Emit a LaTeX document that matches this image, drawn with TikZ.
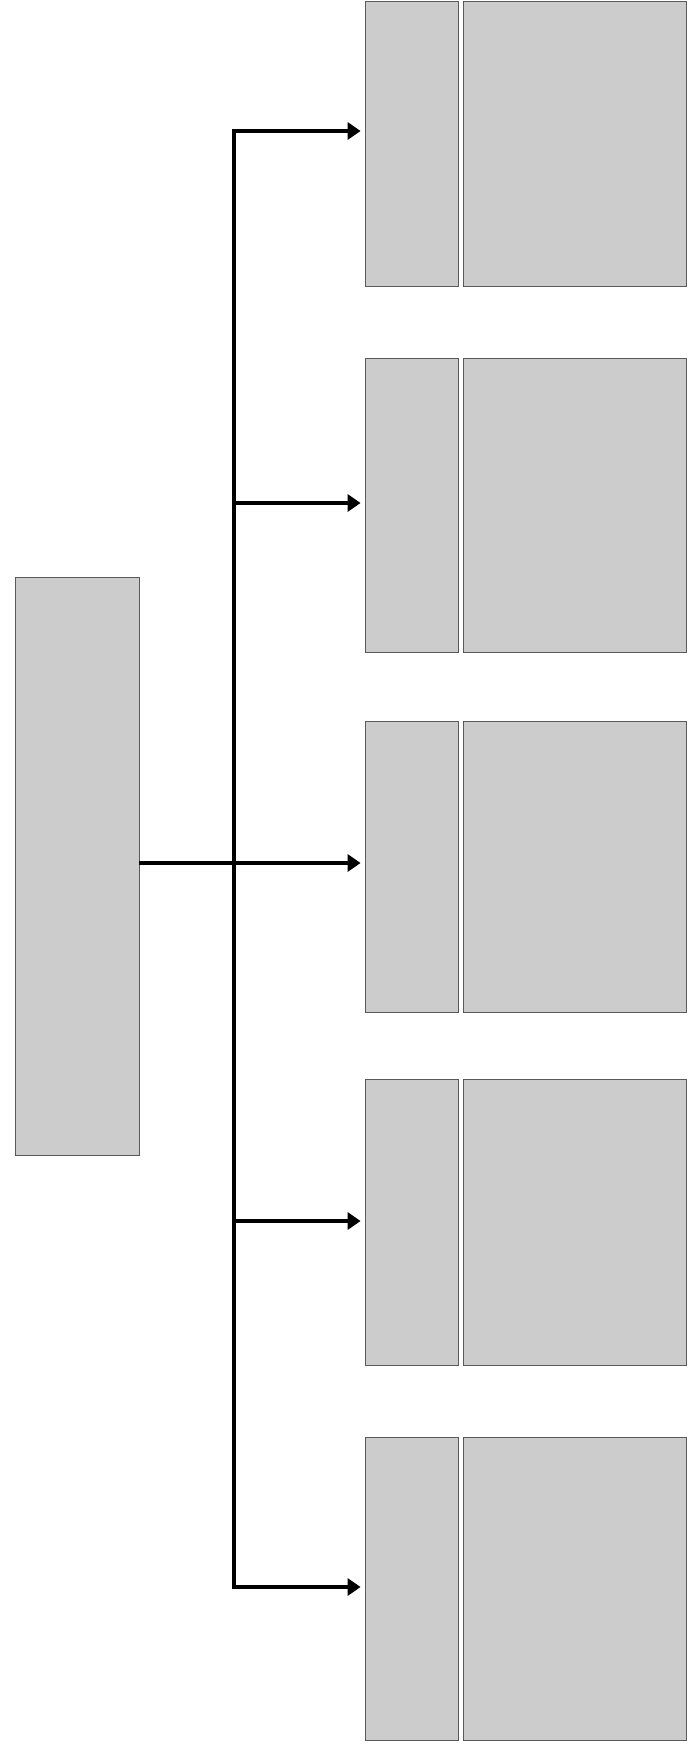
\documentclass[tikz,border=0pt]{standalone}
\usepackage{xcolor}
\usepackage{tikz}
\usetikzlibrary{positioning,calc,arrows.meta}
\definecolor{scangray}{RGB}{204,204,204}
\definecolor{scanedge}{RGB}{90,90,90}

\begin{document}
\begin{tikzpicture}[
      x=1pt, y=-1pt,
      panel/.style={rectangle, fill=scangray, draw=scanedge, line width=0.8pt, inner sep=0pt},
      title/.style={panel, minimum width=93pt},
      desc/.style={panel, minimum width=223pt},
      link/.style={line width=4pt, color=black},
      arrow/.style={link, -{Triangle[length=13pt, width=17pt]}}
    ]
    \useasboundingbox (0,0) rectangle (691,1754);

    % source box on the left
    \node[panel, minimum width=124pt, minimum height=578pt] (source) at (77,866) {};

    % the five target boxes, each a title column and a text column
    \node[title, minimum height=285pt] (title1) at (411.5,143.5) {};
    \node[desc,  minimum height=285pt] (desc1)  at (574.5,143.5) {};
    \node[title, minimum height=294pt] (title2) at (411.5,505) {};
    \node[desc,  minimum height=294pt] (desc2)  at (574.5,505) {};
    \node[title, minimum height=291pt] (title3) at (411.5,866.5) {};
    \node[desc,  minimum height=291pt] (desc3)  at (574.5,866.5) {};
    \node[title, minimum height=286pt] (title4) at (411.5,1222) {};
    \node[desc,  minimum height=286pt] (desc4)  at (574.5,1222) {};
    \node[title, minimum height=303pt] (title5) at (411.5,1588.5) {};
    \node[desc,  minimum height=303pt] (desc5)  at (574.5,1588.5) {};

    % junctions on the vertical trunk
    \coordinate (fork1) at (234,131);
    \coordinate (fork2) at (234,503);
    \coordinate (fork3) at (234,863);
    \coordinate (fork4) at (234,1221);
    \coordinate (fork5) at (234,1587);

    \draw[link, line cap=rect] (fork1) -- (fork5);
    \draw[link] (source.east |- fork3) -- (fork3);

    \draw[arrow] (fork1) -- ([xshift=-4pt]title1.west |- fork1);
    \draw[arrow] (fork2) -- ([xshift=-4pt]title2.west |- fork2);
    \draw[arrow] (fork3) -- ([xshift=-4pt]title3.west |- fork3);
    \draw[arrow] (fork4) -- ([xshift=-4pt]title4.west |- fork4);
    \draw[arrow] (fork5) -- ([xshift=-4pt]title5.west |- fork5);
  \end{tikzpicture}
\end{document}
